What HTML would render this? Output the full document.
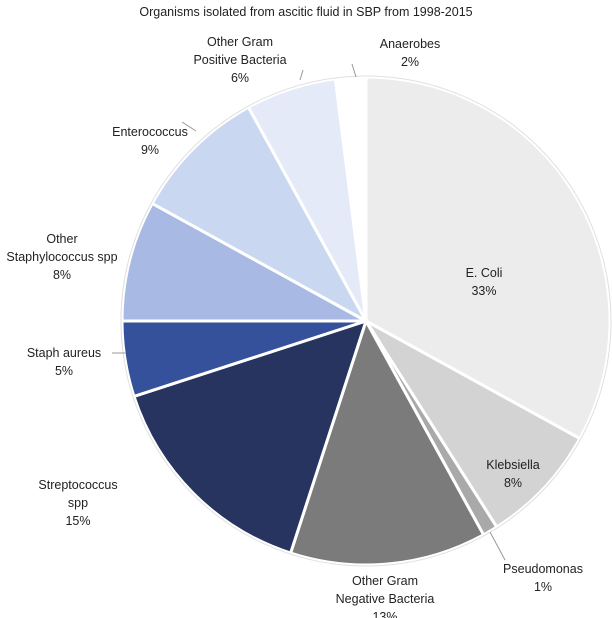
<!DOCTYPE html>
<html><head><meta charset="utf-8">
<style>
body{margin:0;background:#fff;}
svg{display:block;font-family:"Liberation Sans",sans-serif;}
</style></head>
<body>
<svg id="chart" width="612" height="618" viewBox="0 0 612 618">
<text x="306" y="16" text-anchor="middle" font-size="12.5" fill="#222">Organisms isolated from ascitic fluid in SBP from 1998-2015</text>
<g id="slices"></g>
<g id="labels" font-size="12.5" fill="#222"></g>
</svg>
<script>
const categories = ["E. Coli","Klebsiella","Pseudomonas","Other Gram Negative Bacteria","Streptococcus spp","Staph aureus","Other Staphylococcus spp","Enterococcus","Other Gram Positive Bacteria","Anaerobes"];
const values = [33,8,1,13,15,5,8,9,6,2];
const colors = ["#ececec","#d3d3d3","#a9a9a9","#7b7b7b","#26345f","#35519b","#a8b9e3","#c9d7f1","#e4eaf8","#ffffff"];
// label layout: lines, text x, first line y, leader from/to (null if inside)
const labelLines = [["E. Coli","33%"],["Klebsiella","8%"],["Pseudomonas","1%"],["Other Gram","Negative Bacteria","13%"],["Streptococcus","spp","15%"],["Staph aureus","5%"],["Other","Staphylococcus spp","8%"],["Enterococcus","9%"],["Other Gram","Positive Bacteria","6%"],["Anaerobes","2%"]];
const labelPos = [[484,277],[513,469],[543,573],[385,585],[78,489],[64,357],[62,243],[150,136],[240,46],[410,48]];
const leaders = [null,null,[[490,532],[505,560]],null,null,[[112,353],[126,353]],null,[[182,122],[196,131]],[[303,70],[300,80]],[[352,64],[356,77]]];
const cx=366, cy=321, r=244;
const NS="http://www.w3.org/2000/svg";
const total=values.reduce((a,b)=>a+b,0);
const gS=document.getElementById('slices'), gL=document.getElementById('labels');
let a0=0;
function pt(a,rr){return [cx+rr*Math.sin(a), cy-rr*Math.cos(a)];}
values.forEach((v,i)=>{
  const a1=a0+v/total*2*Math.PI;
  const p0=pt(a0,r), p1=pt(a1,r);
  const large=(a1-a0)>Math.PI?1:0;
  const path=document.createElementNS(NS,'path');
  path.setAttribute('d',`M${cx},${cy} L${p0[0]},${p0[1]} A${r},${r} 0 ${large} 1 ${p1[0]},${p1[1]} Z`);
  path.setAttribute('fill',colors[i]);
  path.setAttribute('stroke','#fff');
  path.setAttribute('stroke-width','3');
  
  
  gS.appendChild(path);
  a0=a1;
});
const outline=document.createElementNS(NS,'circle');
outline.setAttribute('cx',cx);outline.setAttribute('cy',cy);outline.setAttribute('r',r+1);
outline.setAttribute('fill','none');outline.setAttribute('stroke','#e0e0e0');outline.setAttribute('stroke-width','1');


gS.appendChild(outline);
labelLines.forEach((lines,i)=>{
  const t=document.createElementNS(NS,'text');
  t.setAttribute('x',labelPos[i][0]);t.setAttribute('y',labelPos[i][1]);
  t.setAttribute('text-anchor','middle');
  
  
  lines.forEach((s,j)=>{
    const ts=document.createElementNS(NS,'tspan');
    ts.setAttribute('x',labelPos[i][0]);
    ts.setAttribute('dy',j?18:0);
    ts.textContent = j===lines.length-1 ? values[i]+'%' : s;
    t.appendChild(ts);
  });
  gL.appendChild(t);
  if(leaders[i]){
    const l=document.createElementNS(NS,'polyline');
    l.setAttribute('points',leaders[i].map(p=>p.join(',')).join(' '));
    l.setAttribute('fill','none');l.setAttribute('stroke','#999');l.setAttribute('stroke-width','1');
    
    
    gL.appendChild(l);
  }
});
</script>
</body></html>
